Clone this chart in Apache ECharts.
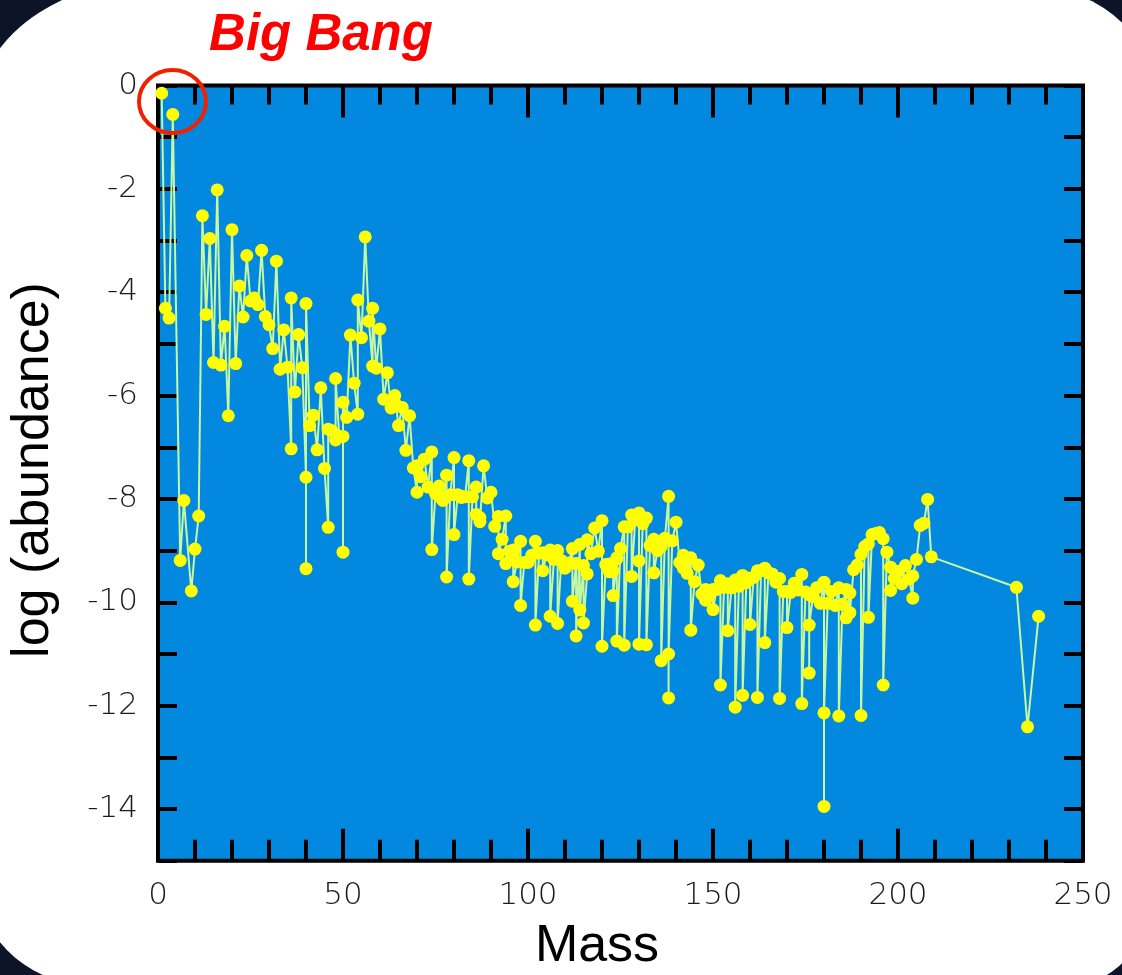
<!DOCTYPE html>
<html>
<head>
<meta charset="utf-8">
<script src="https://cdn.jsdelivr.net/npm/echarts@6/dist/echarts.min.js"></script>
<style>
html,body{margin:0;padding:0;width:1122px;height:975px;overflow:hidden;background:#0d1428;}
#bg{position:absolute;left:-20px;top:-25px;width:1162px;height:1012px;background:#ffffff;
border-radius:200px 170px 80px 120px / 130px 90px 70px 100px;}
#c{position:absolute;left:0;top:0;width:1122px;height:975px;}
</style>
</head>
<body>
<div id="bg"></div>
<div id="c"></div>
<script>
// Mass number of each plotted nuclide (in plotted order)
const masses = [
1,2,3,4,6,7,9,10,11,12,13,14,15,16,17,18,19,20,21,22,23,24,25,26,27,28,29,30,31,32,33,34,35,36,36,37,38,39,
40,40,40,41,42,43,44,45,46,46,47,48,48,49,50,50,50,51,52,53,54,54,55,56,57,58,58,59,60,61,62,63,64,64,65,66,67,68,69,
70,70,71,72,73,74,74,75,76,76,77,78,78,79,80,80,81,82,82,83,84,84,85,86,86,87,87,88,89,90,91,92,92,93,94,94,95,
96,96,96,97,98,98,99,100,100,101,102,102,103,104,104,105,106,106,107,108,108,109,110,110,111,112,112,113,113,114,114,
115,115,116,116,117,118,119,120,120,121,122,122,123,123,124,124,124,125,126,126,127,128,128,129,130,130,130,131,132,132,
133,134,134,135,136,136,136,137,138,138,138,139,140,141,142,142,143,144,144,145,146,147,148,148,149,150,150,151,152,152,
153,154,154,155,156,156,157,158,158,159,160,160,161,162,162,163,164,164,165,166,167,168,168,169,170,170,171,172,173,
174,174,175,176,176,176,177,178,179,180,180,180,181,182,183,184,184,185,186,186,187,187,188,189,190,190,191,192,192,
193,194,195,196,196,197,198,198,199,200,201,202,203,204,204,205,206,207,208,209,232,235,238
];
// log10 of abundance
const logAbundance = [
-0.15,-4.31,-4.50,-0.56,-9.19,-8.03,-9.78,-8.97,-8.33,-2.52,-4.43,-2.96,-5.36,-2.02,-5.41,-4.66,-6.39,-2.79,-5.38,-3.88,
-4.48,-3.29,-4.17,-4.11,-4.24,-3.19,-4.47,-4.63,-5.09,-3.40,-5.49,-4.73,-5.45,-7.03,-4.11,-5.93,-4.82,-5.46,
-7.58,-9.35,-4.22,-6.58,-6.38,-7.05,-5.85,-7.41,-8.55,-6.65,-6.68,-6.86,-5.67,-6.79,-6.79,-9.03,-6.13,-6.42,-4.83,-5.76,
-6.36,-4.15,-4.88,-2.93,-4.56,-5.43,-4.31,-5.47,-4.71,-6.07,-5.56,-6.24,-6.14,-6.00,-6.58,-6.23,-7.06,-6.39,-7.40,
-7.87,-7.36,-7.57,-7.23,-7.77,-7.09,-8.98,-7.90,-7.75,-7.95,-8.03,-7.54,-9.51,-7.92,-7.20,-8.69,-7.92,-7.95,-7.97,-7.96,
-7.26,-9.55,-7.96,-7.77,-8.30,-8.36,-8.44,-7.36,-7.98,-7.87,-8.53,-8.34,-9.06,-8.78,-8.33,-9.25,-9.01,
-9.11,-8.99,-9.60,-9.22,-8.82,-10.06,-9.23,-9.21,-9.23,-9.09,-8.82,-10.44,-9.05,-9.04,-9.39,-9.08,-8.99,-10.27,-9.17,
-9.00,-10.41,-9.19,-9.34,-9.25,-9.24,-8.96,-9.98,-9.25,-10.65,-8.88,-10.15,
-9.29,-10.40,-9.45,-8.79,-9.06,-8.56,-9.01,-8.42,-10.85,-9.27,-9.26,-9.41,-9.39,-9.87,-9.16,-9.14,-10.75,-8.96,-8.54,
-10.83,-8.54,-8.31,-9.50,-8.40,-8.27,-9.20,-10.81,-8.48,-8.37,-10.82,
-8.90,-8.78,-9.43,-9.00,-8.84,-8.92,-11.13,-8.76,-7.95,-11.85,-11.00,-8.81,-8.45,-9.23,-9.34,-9.09,-9.44,-9.14,-10.54,
-9.60,-9.28,-9.84,-9.75,-9.96,-9.87,-9.75,-10.14,-9.75,-9.58,-11.60,
-9.71,-9.64,-10.55,-9.72,-9.57,-12.03,-9.69,-9.48,-11.80,-9.62,-9.53,-10.43,-9.52,-9.39,-11.84,-9.39,-9.34,-10.78,-9.43,
-9.45,-9.61,-9.54,-11.86,-9.79,-9.79,-10.49,-9.81,-9.63,-9.76,
-9.46,-11.96,-9.80,-9.85,-11.37,-10.44,-9.89,-9.72,-10.02,-9.61,-13.95,-12.14,-10.02,-9.79,-10.06,-9.72,-12.20,-10.04,
-9.75,-10.30,-9.82,-10.20,-9.37,-9.28,-9.07,-12.19,-8.92,-8.87,-10.29,
-8.69,-8.67,-8.65,-8.77,-11.60,-9.03,-9.32,-9.77,-9.54,-9.40,-9.64,-9.29,-9.55,-9.92,-9.49,-9.17,-8.51,-8.47,-8.01,-9.12,
-9.71,-12.41,-10.27
];
const xTickLabels = ['0','50','100','150','200','250'];
const yTickLabels = ['0','-2','-4','-6','-8','-10','-12','-14'];

const tickFont = '"DejaVu Sans", "Liberation Sans", sans-serif';
const chart = echarts.init(document.getElementById('c'), null, {renderer:'canvas'});
const tickStyle = {color:'#000', width:4};
function xAx(pos, interval, len, showLabel){
  return {type:'value', min:0, max:250, interval:interval, position:pos,
    axisLine:{show:false, onZero:false}, splitLine:{show:false},
    axisTick:{show:true, inside:true, length:len, lineStyle:tickStyle},
    axisLabel:{show:showLabel, margin:20, fontSize:31, fontFamily:tickFont, fontWeight:200, color:'#1a1a1a',
      formatter:function(v){ const s=String(v); return xTickLabels.indexOf(s)>=0 ? s : ''; }}};
}
function yAx(pos, showLabel){
  return {type:'value', min:-15, max:0, interval:1, position:pos,
    axisLine:{show:false, onZero:false}, splitLine:{show:false},
    axisTick:{show:true, inside:true, length:19, lineStyle:tickStyle},
    axisLabel:{show:showLabel, margin:20, fontSize:31, fontFamily:tickFont, fontWeight:200, color:'#1a1a1a',
      formatter:function(v){ const s=String(v); return yTickLabels.indexOf(s)>=0 ? s : ''; }}};
}
const option = {
  animation:false,
  grid:{left:158, right:39, top:85.5, bottom:114.3, show:true, backgroundColor:'#0288de', borderColor:'#000', borderWidth:4},
  xAxis:[xAx('bottom',50,32,true), xAx('bottom',10,21,false), xAx('top',50,32,false), xAx('top',10,19,false)],
  yAxis:[yAx('left',true), yAx('right',false)],
  series:[{
    type:'line', xAxisIndex:0, yAxisIndex:0,
    data: masses.map(function(m,i){ return [m, logAbundance[i]]; }),
    symbol:'circle', symbolSize:13, showAllSymbol:true,
    itemStyle:{color:'#ffff00'},
    lineStyle:{color:'#c6f7a2', width:2},
    emphasis:{disabled:true}
  }],
  graphic:[
    {type:'text', x:321, y:36, z:100, style:{text:'Big Bang', fontSize:51, fontWeight:'bold', fontStyle:'italic',
      fontFamily:'"Liberation Sans", Arial, sans-serif', fill:'#ff0000', align:'center', verticalAlign:'middle'}},
    {type:'ellipse', z:100, shape:{cx:172.5, cy:101.5, rx:33.5, ry:31.5}, style:{fill:'rgba(0,0,0,0)', stroke:'#ee2200', lineWidth:4}},
    {type:'text', x:597, y:947, z:100, style:{text:'Mass', fontSize:52,
      fontFamily:'"Liberation Sans", Arial, sans-serif', fill:'#000', align:'center', verticalAlign:'middle'}},
    {type:'text', x:34, y:470, rotation:Math.PI/2, z:100, style:{text:'log (abundance)', fontSize:52,
      fontFamily:'"Liberation Sans", Arial, sans-serif', fill:'#000', align:'center', verticalAlign:'middle'}}
  ]
};
chart.setOption(option);
</script>
</body>
</html>
